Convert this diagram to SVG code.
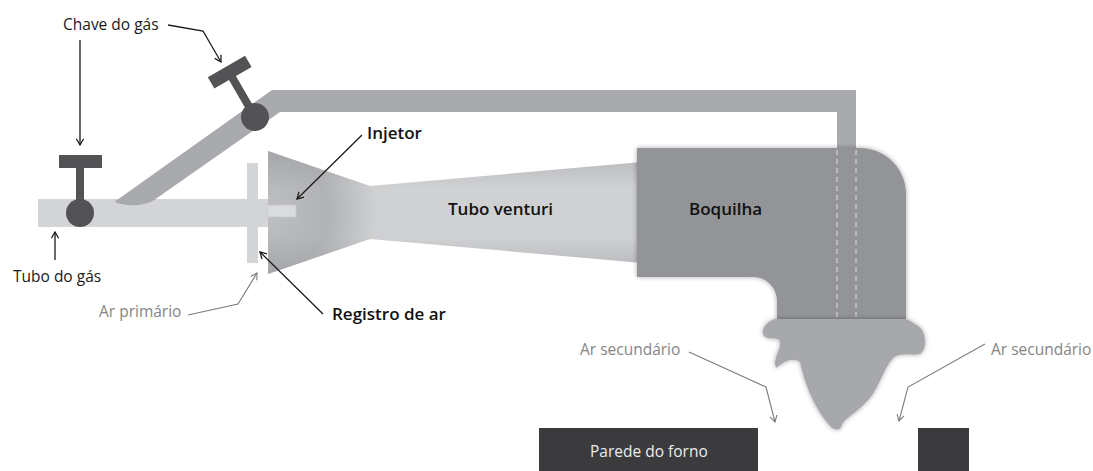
<svg xmlns="http://www.w3.org/2000/svg" width="1093" height="471" viewBox="0 0 1093 471">
  <defs>
    <style>
      .lbl { font-family: "Open Sans", "Liberation Sans", sans-serif; font-size: 15.5px; fill: #1a1a1a; }
      .lbl-b { font-family: "Open Sans", "Liberation Sans", sans-serif; font-size: 17px; font-weight: 600; fill: #111; }
      .lbl-g { font-family: "Open Sans", "Liberation Sans", sans-serif; font-size: 15.5px; fill: #858585; }
      .lbl-w { font-family: "Open Sans", "Liberation Sans", sans-serif; font-size: 15.5px; fill: #ececec; }
      .lead { fill: none; stroke: #1a1a1a; stroke-width: 1.3; }
      .lead-g { fill: none; stroke: #7d7d7d; stroke-width: 1.1; }
      .pipe-light { fill: #d4d5d6; }
      .pipe-mid { fill: #a9aaad; }
      .valve { fill: #535356; }
      .wall { fill: #3b3b3d; }
      .dash { stroke: #dedfe0; stroke-width: 1; stroke-dasharray: 5 4; fill: none; }
    </style>
    <marker id="ah" viewBox="0 0 10 10" refX="9" refY="5" markerWidth="9" markerHeight="9" markerUnits="userSpaceOnUse" orient="auto">
      <path d="M2,1 L9,5 L2,9" fill="none" stroke="#1a1a1a" stroke-width="1.4"/>
    </marker>
    <marker id="ah-g" viewBox="0 0 10 10" refX="9" refY="5" markerWidth="9" markerHeight="9" markerUnits="userSpaceOnUse" orient="auto">
      <path d="M2,1 L9,5 L2,9" fill="none" stroke="#7d7d7d" stroke-width="1.2"/>
    </marker>
    <linearGradient id="venturiV" x1="0" y1="151" x2="0" y2="274" gradientUnits="userSpaceOnUse">
      <stop offset="0" stop-color="#b3b4b7"/>
      <stop offset="0.3" stop-color="#d0d1d3"/>
      <stop offset="0.7" stop-color="#d0d1d3"/>
      <stop offset="1" stop-color="#b3b4b7"/>
    </linearGradient>
    <radialGradient id="venturiH" cx="268" cy="212" r="110" gradientUnits="userSpaceOnUse">
      <stop offset="0" stop-color="#9d9ea1" stop-opacity="0.35"/>
      <stop offset="0.55" stop-color="#9d9ea1" stop-opacity="0.6"/>
      <stop offset="1" stop-color="#9d9ea1" stop-opacity="0"/>
    </radialGradient>
    <filter id="soft" x="-10%" y="-10%" width="120%" height="120%">
      <feGaussianBlur in="SourceAlpha" stdDeviation="2.5"/>
      <feComponentTransfer><feFuncA type="linear" slope="0.35"/></feComponentTransfer>
      <feMerge><feMergeNode/><feMergeNode in="SourceGraphic"/></feMerge>
    </filter>
    <!-- valve: T handle over a round body, drawn around its body centre -->
    <g id="valveShape">
      <rect x="-21" y="-58" width="43" height="13"/>
      <rect x="-4" y="-46" width="8" height="40"/>
      <circle cx="0" cy="0" r="14"/>
    </g>
  </defs>

  <!-- gas supply pipe -->
  <g id="tubo-gas">
    <rect class="pipe-light" x="38" y="199" width="232" height="28"/>
  </g>

  <!-- air register plate -->
  <g id="registro-ar">
    <rect class="pipe-light" x="247" y="163" width="11" height="100"/>
  </g>

  <!-- bypass line up over the burner into the nozzle -->
  <g id="linha-derivacao">
    <path class="pipe-mid" d="M272,90 L856,90 L856,152 L837,152 L837,112 L280,112 L157,198 C150,204 138,206 128,205 C118,204 112,202 117,200 Z"/>
  </g>

  <!-- valves -->
  <g id="chave-1" class="valve">
    <use href="#valveShape" transform="translate(80,213)"/>
  </g>
  <g id="chave-2" class="valve">
    <use href="#valveShape" transform="translate(255,117) rotate(-30)"/>
  </g>

  <!-- venturi tube -->
  <g id="tubo-venturi">
    <path d="M268,151 L370,186 L642,162 L642,263 L370,239 L268,274 Z" fill="url(#venturiV)"/>
    <path d="M268,151 L370,186 L642,162 L642,263 L370,239 L268,274 Z" fill="url(#venturiH)"/>
    <text class="lbl-b" x="448" y="215">Tubo venturi</text>
  </g>

  <!-- injector -->
  <g id="injetor">
    <rect x="267" y="205" width="29" height="12" fill="#dadbdc" stroke="#c6c7c9" stroke-width="0.8"/>
  </g>

  <!-- nozzle elbow -->
  <g id="boquilha">
    <path d="M637,148 L860,148 A46,46 0 0 1 906,194 L906,319 L777,319 L777,301 A24,24 0 0 0 753,277 L637,277 Z" fill="#939497" filter="url(#soft)"/>
    <line class="dash" x1="837" y1="150" x2="837" y2="318"/>
    <line class="dash" x1="856" y1="150" x2="856" y2="318"/>
    <text class="lbl-b" x="689" y="215">Boquilha</text>
  </g>

  <!-- flame -->
  <g id="chama">
    <path d="M775,319 C766,322 760,330 764,336 C770,341 777,336 780,341 C782,349 772,358 776,368 C782,363 792,356 800,362 C804,380 812,405 830,426 C836,432 842,430 842,424 C846,418 860,410 870,398 C880,385 884,368 893,358 C900,352 912,356 920,354 C928,350 926,330 918,326 C912,322 908,319 905,319 Z" fill="#a7a8ab" filter="url(#soft)"/>
  </g>

  <!-- furnace wall -->
  <g id="parede-forno">
    <rect class="wall" x="539" y="428" width="219" height="43"/>
    <rect class="wall" x="918" y="428" width="51" height="43"/>
    <text class="lbl-w" x="590" y="457">Parede do forno</text>
  </g>

  <!-- labels -->
  <g id="rotulos">
    <text class="lbl" x="63" y="30">Chave do gás</text>
    <text class="lbl" x="13" y="282">Tubo do gás</text>
    <text class="lbl-b" x="367" y="139">Injetor</text>
    <text class="lbl-b" x="332" y="320">Registro de ar</text>
    <text class="lbl-g" x="99" y="317">Ar primário</text>
    <text class="lbl-g" x="580" y="355">Ar secundário</text>
    <text class="lbl-g" x="991" y="355">Ar secundário</text>
  </g>

  <!-- leader lines -->
  <g id="conectores">
    <line class="lead" x1="80" y1="40" x2="80" y2="145" marker-end="url(#ah)"/>
    <polyline class="lead" points="168,25 203,31 221,62" marker-end="url(#ah)"/>
    <line class="lead" x1="55" y1="260" x2="55" y2="232" marker-end="url(#ah)"/>
    <line class="lead" x1="362" y1="135" x2="297" y2="199" marker-end="url(#ah)"/>
    <line class="lead" x1="323" y1="314" x2="260" y2="252" marker-end="url(#ah)"/>
    <polyline class="lead-g" points="188,315 238,304 257,273" marker-end="url(#ah-g)"/>
    <polyline class="lead-g" points="689,352 766,387 775,422" marker-end="url(#ah-g)"/>
    <polyline class="lead-g" points="985,344 908,387 899,421" marker-end="url(#ah-g)"/>
  </g>
</svg>
